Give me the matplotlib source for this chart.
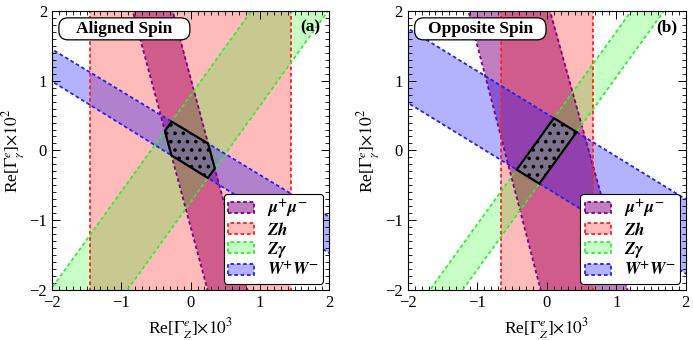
import numpy as np
import matplotlib
matplotlib.use("Agg")
import matplotlib.pyplot as plt
from matplotlib.patches import Patch, Polygon, FancyBboxPatch
from matplotlib.ticker import MultipleLocator

plt.rcParams['font.family'] = ['Liberation Serif', 'DejaVu Serif']
plt.rcParams['mathtext.fontset'] = 'stix'
plt.rcParams['hatch.linewidth'] = 1.4

# ---------------- data ----------------
# Each band = two boundary lines.  kind 'x': x = slope*y + icpt ; kind 'y': y = slope*x + icpt
channels = ['mumu', 'zh', 'zgam', 'ww']
labels = [r'$\mathbfit{\mu}^{\mathbf{+}}\mathbfit{\mu}^{\mathbf{-}}$', r'$\mathbfit{Zh}$',
          r'$\mathbfit{Z\gamma}$', r'$\mathbfit{W}^{\mathbf{+}}\mathbfit{W}^{\mathbf{-}}$']
kinds = ['x', 'x', 'y', 'y']

# Aligned spin (a)
a_mumu_slope = [-0.27, -0.27]
a_mumu_icpt = [-0.295, 0.28]
a_zh_slope = [0.0, 0.0]
a_zh_icpt = [-1.45, 1.45]
a_zgam_slope = [1.38, 1.38]
a_zgam_icpt = [-0.74, 0.79]
a_ww_slope = [-0.615, -0.60]
a_ww_icpt = [-0.24, 0.25]

# Opposite spin (b)
b_mumu_slope = [-0.26, -0.279]
b_mumu_icpt = [-0.607, 0.605]
b_zh_slope = [0.0, 0.0]
b_zh_icpt = [-0.66, 0.66]
b_zgam_slope = [1.38, 1.38]
b_zgam_icpt = [-0.33, 0.32]
b_ww_slope = [-0.612, -0.612]
b_ww_icpt = [-0.54, 0.526]

panel_titles = ['Aligned Spin', 'Opposite Spin']
panel_tags = ['(a)', '(b)']
xlim = [-2, 2]
ylim = [-2, 2]
ticks = [-2, -1, 0, 1, 2]

edge_colors = {'mumu': '#800080', 'zh': '#ff2020', 'zgam': '#33ee33', 'ww': '#2020ff'}
fill_colors = {'mumu': (0.5, 0.0, 0.5, 0.5), 'zh': (1.0, 0.0, 0.0, 0.27),
               'zgam': (0.0, 1.0, 0.0, 0.22), 'ww': (0.0, 0.0, 1.0, 0.30)}

panels = [
    {'mumu': (a_mumu_slope, a_mumu_icpt), 'zh': (a_zh_slope, a_zh_icpt),
     'zgam': (a_zgam_slope, a_zgam_icpt), 'ww': (a_ww_slope, a_ww_icpt)},
    {'mumu': (b_mumu_slope, b_mumu_icpt), 'zh': (b_zh_slope, b_zh_icpt),
     'zgam': (b_zgam_slope, b_zgam_icpt), 'ww': (b_ww_slope, b_ww_icpt)},
]

LS = (0, (2.0, 1.5))


def clip(poly, f, sign):
    """Sutherland-Hodgman clip against half-plane sign*f(p) >= 0."""
    out = []
    n = len(poly)
    for i in range(n):
        p, q = poly[i], poly[(i + 1) % n]
        fp, fq = sign * f(p), sign * f(q)
        if fp >= 0:
            out.append(p)
        if (fp >= 0) != (fq >= 0):
            t = fp / (fp - fq)
            out.append((p[0] + t * (q[0] - p[0]), p[1] + t * (q[1] - p[1])))
    return out


fig = plt.figure(figsize=(6.93, 3.40), dpi=100)
rects = [[0.075, 0.147, 0.400, 0.821], [0.5883, 0.147, 0.4012, 0.821]]

for k, (rect, pdata) in enumerate(zip(rects, panels)):
    ax = fig.add_axes(rect)
    ax.set_xlim(xlim)
    ax.set_ylim(ylim)
    grid = np.linspace(-2.2, 2.2, 200)
    region = [(-2, -2), (2, -2), (2, 2), (-2, 2)]
    for ch, kind in zip(channels, kinds):
        slopes, icpts = pdata[ch]
        lo = slopes[0] * grid + icpts[0]
        hi = slopes[1] * grid + icpts[1]
        if kind == 'x':
            ax.fill_betweenx(grid, lo, hi, color=fill_colors[ch], lw=0)
            ax.plot(lo, grid, color=edge_colors[ch], lw=1.3, ls=LS)
            ax.plot(hi, grid, color=edge_colors[ch], lw=1.3, ls=LS)
        else:
            ax.fill_between(grid, lo, hi, color=fill_colors[ch], lw=0)
            ax.plot(grid, lo, color=edge_colors[ch], lw=1.3, ls=LS)
            ax.plot(grid, hi, color=edge_colors[ch], lw=1.3, ls=LS)
        for j, sign in ((0, 1), (1, -1)):
            s, c = slopes[j], icpts[j]
            if kind == 'x':
                f = (lambda p, s=s, c=c: p[0] - s * p[1] - c)
            else:
                f = (lambda p, s=s, c=c: p[1] - s * p[0] - c)
            region = clip(region, f, sign)
    comb = Polygon(region, closed=True, facecolor=(0.52, 0.52, 0.52, 0.6),
                   edgecolor='black', lw=1.6, hatch='..', zorder=5)
    ax.add_patch(comb)

    ax.set_xticks(ticks)
    ax.set_yticks(ticks)
    ax.set_xticklabels([str(t).replace('-', '\u2212') for t in ticks])
    ax.set_yticklabels([str(t).replace('-', '\u2212') for t in ticks])
    ax.xaxis.set_minor_locator(MultipleLocator(0.1))
    ax.yaxis.set_minor_locator(MultipleLocator(0.1))
    ax.tick_params(which='both', direction='in', top=True, right=True, labelsize=12)
    ax.tick_params(which='major', length=6, width=0.7)
    ax.tick_params(which='minor', length=3, width=0.6)
    ax.set_xlabel(r'Re[$\Gamma^{e}_{Z}$]$\times 10^{3}$', fontsize=12.5, labelpad=4)
    ax.set_ylabel(r'Re[$\Gamma^{e}_{\gamma}$]$\times 10^{2}$', fontsize=12.5, labelpad=2)
    for sp in ax.spines.values():
        sp.set_linewidth(0.8)

    box = FancyBboxPatch((-1.9, 1.585), 1.89, 0.315,
                         boxstyle='round,pad=0,rounding_size=0.13',
                         facecolor='white', edgecolor='black', lw=0.9, zorder=9)
    ax.add_patch(box)
    ax.text(-0.955, 1.74, panel_titles[k], fontsize=12.5, fontweight='bold', ha='center',
            va='center', zorder=10)
    ax.text(1.73, 1.76, panel_tags[k], fontsize=12.5, fontweight='bold', ha='center', va='center',
            zorder=10)

    handles = [Patch(facecolor=fill_colors[ch], edgecolor=edge_colors[ch], lw=1.3, ls=LS)
               for ch in channels]
    leg = ax.legend(handles, labels, loc='lower right', fontsize=12.5, frameon=True,
                    fancybox=True, framealpha=1, edgecolor='black', borderpad=0.25,
                    handlelength=1.5, handleheight=0.6, labelspacing=0.08, handletextpad=0.75,
                    borderaxespad=0.35)
    leg.get_frame().set_linewidth(0.8)
    leg.set_zorder(20)

fig.savefig('out.png', dpi=100)
